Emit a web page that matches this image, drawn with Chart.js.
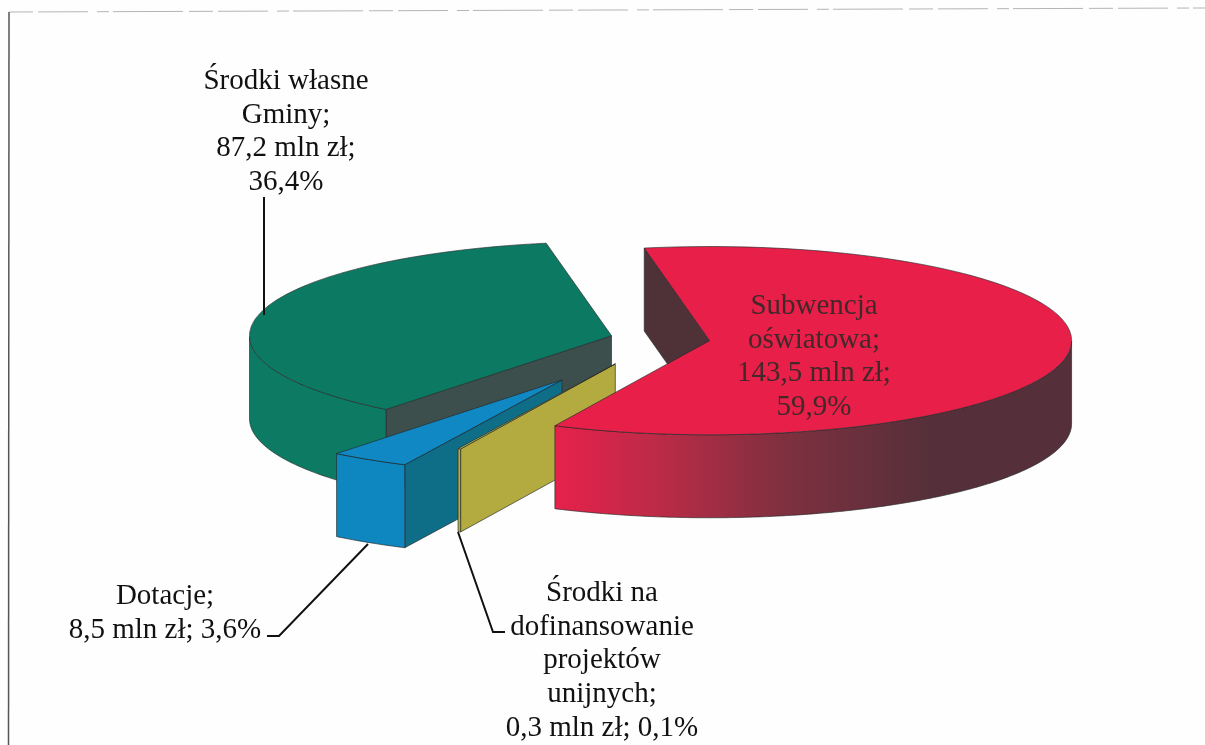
<!DOCTYPE html>
<html lang="pl">
<head>
    <meta charset="UTF-8">
    <title>Źródła finansowania oświaty</title>
    <script src="https://cdn.jsdelivr.net/npm/chart.js"></script>
    <style>
        html, body { margin: 0; padding: 0; background: #fefefe; }
        canvas { display: block; }
    </style>
</head>
<body>

    <canvas id="myChart" width="1205" height="745"></canvas>

    <script>
        // Dane (mln zł), kolejność zgodnie z ruchem wskazówek zegara
        const categories = ["Subwencja oświatowa", "Środki na dofinansowanie projektów unijnych", "Dotacje", "Środki własne Gminy"];
        const values = [143.5, 0.3, 8.5, 87.2];
        const topColors = ["#e81f49", "#c9c24e", "#0f88c4", "#0c7a63"];
        const rimColors = ["#e6214a", "#b5ae42", "#0e86bf", "#0d7b64"];
        const sideColors = ["#4f3238", "#b3ab40", "#0e6e88", "#3d4f4d"];
        const explode = [49, 106, 186, 51];
        const wallOrder = [3, 2, 1, 0];

        // Opisy danych
        const labelLines = [
            { lines: ["Subwencja", "oświatowa;", "143,5 mln zł;", "59,9%"], x: 814, y: 314, color: "#43282a" },
            { lines: ["Środki na", "dofinansowanie", "projektów", "unijnych;", "0,3 mln zł; 0,1%"], x: 602, y: 601, color: "#111" },
            { lines: ["Dotacje;", "8,5 mln zł; 3,6%"], x: 165, y: 604, color: "#111" },
            { lines: ["Środki własne", "Gminy;", "87,2 mln zł;", "36,4%"], x: 286, y: 89, color: "#111" }
        ];
        const leaders = [
            [[264, 197], [264, 315]],
            [[267, 636], [279, 636], [368, 544]],
            [[458, 532], [493, 632], [505, 632]]
        ];

        // Geometria rzutu: środek koła na ekranie, spłaszczenie i wysokość ścianki
        const centerX = 661, centerY = 339, squash = 0.26, depth = 83;

        function toScreen(chart, x, y, drop) {
            const a = chart.chartArea;
            return [x - (a.left + a.right) / 2 + centerX, centerY + squash * (y - (a.top + a.bottom) / 2) + drop];
        }

        function rimPoint(chart, arc, angle, drop) {
            return toScreen(chart, arc.x + arc.outerRadius * Math.cos(angle), arc.y + arc.outerRadius * Math.sin(angle), drop);
        }

        function fillPoly(ctx, pts, fill) {
            ctx.beginPath();
            pts.forEach((p, i) => i ? ctx.lineTo(p[0], p[1]) : ctx.moveTo(p[0], p[1]));
            ctx.closePath();
            ctx.fillStyle = fill;
            ctx.fill();
            ctx.lineWidth = 1;
            ctx.strokeStyle = "rgba(35,40,40,0.65)";
            ctx.stroke();
        }

        function rimFill(ctx, i) {
            if (i !== 0) return rimColors[i];
            const g = ctx.createLinearGradient(555, 0, 930, 0);
            g.addColorStop(0, "#e6214a");
            g.addColorStop(0.25, "#c02a48");
            g.addColorStop(0.6, "#80303f");
            g.addColorStop(1, "#55303a");
            return g;
        }

        const pie3d = {
            id: "pie3d",
            // Wysunięcie wycinków wzdłuż ich osi
            afterDatasetsUpdate(chart) {
                chart.getDatasetMeta(0).data.forEach((arc, i) => {
                    const mid = (arc.startAngle + arc.endAngle) / 2;
                    arc.x += Math.cos(mid) * explode[i];
                    arc.y += Math.sin(mid) * explode[i];
                });
            },
            // Ścianki boczne, od tyłu do przodu
            beforeDatasetsDraw(chart) {
                const ctx = chart.ctx;
                const arcs = chart.getDatasetMeta(0).data;
                wallOrder.forEach(i => {
                    const arc = arcs[i];
                    const apex = toScreen(chart, arc.x, arc.y, 0);
                    const a = arc.startAngle, b = arc.endAngle;
                    if (Math.cos(a) < 0) {
                        const p = rimPoint(chart, arc, a, 0), q = rimPoint(chart, arc, a, depth);
                        fillPoly(ctx, [apex, p, q, [apex[0], apex[1] + depth]], sideColors[i]);
                    }
                    if (Math.cos(b) > 0) {
                        const p = rimPoint(chart, arc, b, 0), q = rimPoint(chart, arc, b, depth);
                        fillPoly(ctx, [apex, p, q, [apex[0], apex[1] + depth]], sideColors[i]);
                    }
                    const top = [], bottom = [];
                    const steps = Math.max(2, Math.ceil((b - a) / 0.01));
                    for (let s = 0; s <= steps; s++) {
                        const t = a + (b - a) * s / steps;
                        if (Math.sin(t) >= 0) {
                            top.push(rimPoint(chart, arc, t, 0));
                            bottom.unshift(rimPoint(chart, arc, t, depth));
                        }
                    }
                    if (top.length > 1) fillPoly(ctx, top.concat(bottom), rimFill(ctx, i));
                });
            },
            // Wierzch kół spłaszczony przekształceniem płótna
            beforeDatasetDraw(chart) {
                const ctx = chart.ctx, a = chart.chartArea;
                ctx.save();
                ctx.translate(centerX, centerY);
                ctx.scale(1, squash);
                ctx.translate(-(a.left + a.right) / 2, -(a.top + a.bottom) / 2);
            },
            afterDatasetDraw(chart) {
                const ctx = chart.ctx;
                ctx.restore();
                chart.getDatasetMeta(0).data.forEach(arc => {
                    const steps = Math.max(2, Math.ceil((arc.endAngle - arc.startAngle) / 0.01));
                    const pts = [toScreen(chart, arc.x, arc.y, 0)];
                    for (let s = 0; s <= steps; s++) {
                        pts.push(rimPoint(chart, arc, arc.startAngle + (arc.endAngle - arc.startAngle) * s / steps, 0));
                    }
                    ctx.beginPath();
                    pts.forEach((p, i) => i ? ctx.lineTo(p[0], p[1]) : ctx.moveTo(p[0], p[1]));
                    ctx.closePath();
                    ctx.lineWidth = 1;
                    ctx.strokeStyle = "rgba(35,40,40,0.65)";
                    ctx.stroke();
                });
            },
            // Ramka, linie odniesienia i opisy
            afterDraw(chart) {
                const ctx = chart.ctx;
                ctx.save();
                ctx.strokeStyle = "#b4b4b4";
                ctx.lineWidth = 1;
                ctx.setLineDash([24, 5, 50, 9, 12, 4, 70, 6]);
                ctx.beginPath();
                ctx.moveTo(9, 12);
                ctx.lineTo(1205, 8);
                ctx.stroke();
                ctx.setLineDash([]);
                ctx.strokeStyle = "#555";
                ctx.lineWidth = 1.5;
                ctx.beginPath();
                ctx.moveTo(9, 12);
                ctx.lineTo(8.5, 745);
                ctx.stroke();

                ctx.strokeStyle = "#111";
                ctx.lineWidth = 2;
                leaders.forEach(line => {
                    ctx.beginPath();
                    line.forEach((p, i) => i ? ctx.lineTo(p[0], p[1]) : ctx.moveTo(p[0], p[1]));
                    ctx.stroke();
                });

                ctx.font = '29px "Liberation Serif"';
                ctx.textAlign = "center";
                ctx.textBaseline = "alphabetic";
                labelLines.forEach(l => {
                    ctx.fillStyle = l.color;
                    l.lines.forEach((text, i) => ctx.fillText(text, l.x, l.y + i * 33.7));
                });
                ctx.restore();
            }
        };

        new Chart(document.getElementById("myChart"), {
            type: "pie",
            data: {
                labels: categories,
                datasets: [{
                    data: values,
                    backgroundColor: topColors,
                    borderWidth: 0,
                    clip: false
                }]
            },
            options: {
                responsive: false,
                animation: false,
                events: [],
                rotation: 349.6,
                radius: 362,
                layout: { padding: 0 },
                plugins: {
                    legend: { display: false },
                    tooltip: { enabled: false },
                    title: { display: false }
                }
            },
            plugins: [pie3d]
        });
    </script>

</body>
</html>
